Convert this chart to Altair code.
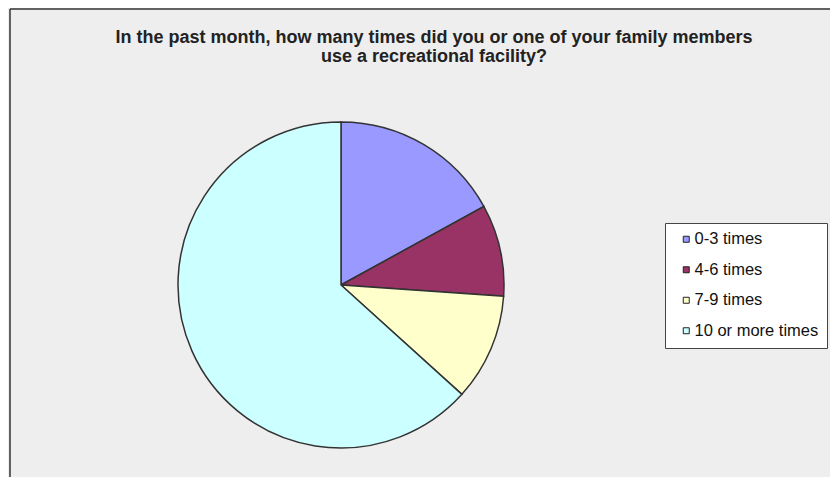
import altair as alt
import pandas as pd

categories = ["0-3 times", "4-6 times", "7-9 times", "10 or more times"]
shares = [17.0, 9.1, 10.6, 63.3]
colors = ["#9999FF", "#993366", "#FFFFCC", "#CCFFFF"]
title_lines = ["In the past month, how many times did you or one of your family members",
               "use a recreational facility?"]

df = pd.DataFrame({"category": categories, "share": shares, "order": list(range(len(categories)))})
one = pd.DataFrame({"k": [0]})

pie = alt.Chart(df).mark_arc(radius=163, stroke="#333333", strokeWidth=1.5).encode(
    theta=alt.Theta("share:Q", stack=True),
    order=alt.Order("order:Q"),
    color=alt.Color("category:N", sort=categories,
                    scale=alt.Scale(domain=categories, range=colors),
                    legend=alt.Legend(title=None, orient="none", legendX=657, legendY=215,
                                      symbolType="square", symbolSize=36,
                                      symbolStrokeColor="#222222", symbolStrokeWidth=1,
                                      symbolOffset=5,
                                      labelFontSize=16.5, labelFont="Liberation Sans",
                                      labelColor="#111111", rowPadding=13.5, labelOffset=0,
                                      padding=8, strokeColor="#444444", fillColor="white")),
    x=alt.value(333),
    y=alt.value(277),
)

title_style = dict(font="Liberation Sans", fontSize=18, fontWeight="bold",
                   color="#222222", align="center", baseline="alphabetic")
title1 = alt.Chart(one).mark_text(text=title_lines[0], **title_style).encode(
    x=alt.value(426), y=alt.value(35))
title2 = alt.Chart(one).mark_text(text=title_lines[1], **title_style).encode(
    x=alt.value(426), y=alt.value(54))

left_rule = alt.Chart(one).mark_rule(color="#333333", strokeWidth=1.5).encode(
    x=alt.value(2), y=alt.value(1), y2=alt.value(469))
top_rule = alt.Chart(one).mark_rule(color="#333333", strokeWidth=1.5).encode(
    x=alt.value(2), x2=alt.value(822), y=alt.value(1))

chart = alt.layer(pie, title1, title2, left_rule, top_rule).properties(
    width=822, height=469,
    autosize=alt.AutoSizeParams(type="fit", contains="padding"),
    padding=0,
    background="#EEEEEE",
).configure_view(stroke=None)

chart.save("out.html", embed_options={"renderer": "svg", "actions": False})
